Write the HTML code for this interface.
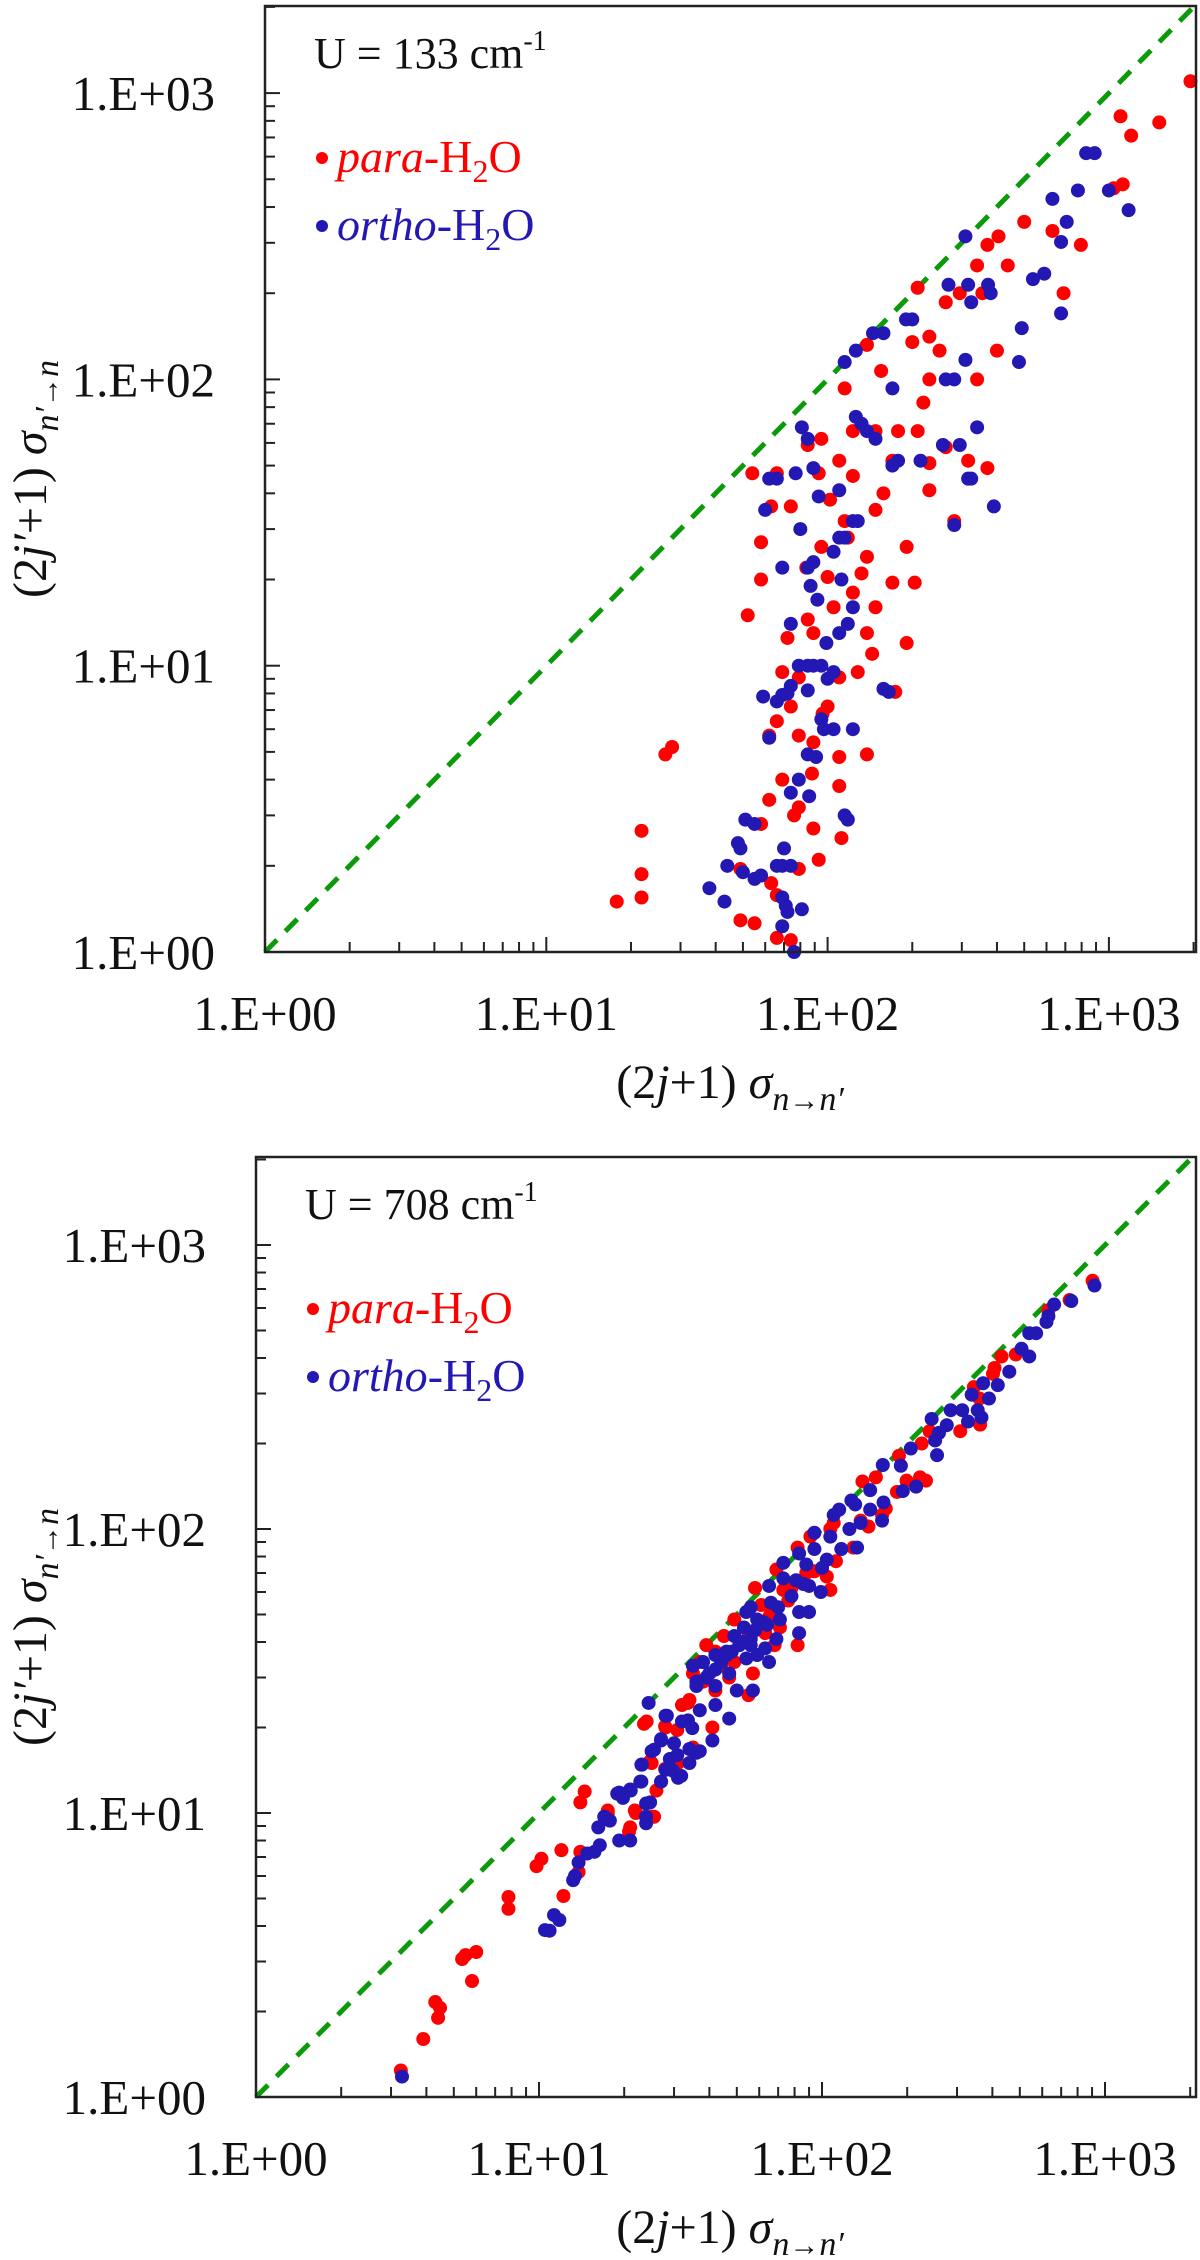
<!DOCTYPE html>
<html><head><meta charset="utf-8"><style>
html,body{margin:0;padding:0;background:#fff;}
svg{display:block;font-family:"Liberation Serif",serif;}
</style></head><body>
<svg id="fig" width="1200" height="2260" viewBox="0 0 1200 2260" xmlns="http://www.w3.org/2000/svg"></svg>
<script>
// ---- Top panel data (U = 133 cm-1) ----
const topParaX=[17.8,21.8,21.8,21.8,26.5,28,1950,1100,1200,1510,1040,1120,795,690,630,500,437,400,405,340,355,295,263,250,340,370,209,200,230,219,230,115,138,155,148,123,110,93,123,148,158,178,170,209,230,263,316,370,282,230,191,204,170,148,138,138,191,174,115,100,89,105,110,123,85,95,79,69,58,52,58,63,74,54,66,85,95,62,66,79,89,100,110,138,110,112,79,89,93,79,63,66,49,55,66,74,49,58,69,74,62,72,84,102,118,132,96,88,76,128,144];
const topParaY=[1.5,1.87,2.65,1.55,4.9,5.2,1100,830,710,790,465,480,295,200,330,355,250,126,316,250,200,200,186,126,100,295,209,135,100,83,141,93,132,107,66,66,52,47,46,35,40,66,52,66,51,58,52,49,32,41,26,19.5,19.5,16,13,24,12,8.1,32,20.4,13,16,9.1,18,14.5,26,9.1,9.5,20,15,27,36,36,47,47,59,62,5.7,6.4,5.7,5.4,7.2,4.8,4.9,3.8,2.5,3.2,2.7,2.1,1.95,1.74,1.58,1.29,1.26,1.12,1.1,1.95,2.8,4,7.2,3.4,12.5,22,38,28,21,6.8,4.2,3.0,9.5,11];
const topOrthoX=[830,890,1175,1000,630,776,676,708,676,589,537,490,479,309,372,316,269,324,309,282,263,380,200,190,158,145,126,115,170,126,132,138,148,178,170,214,257,295,340,316,324,282,390,81,85,89,77,62,66,60,110,93,123,128,110,115,89,85,87,69,123,118,110,74,79,85,89,95,100,105,158,165,74,72,69,66,62,59,85,95,97,105,123,85,91,79,74,115,118,51,55,48,49,44,50,66,69,74,38,43,55,58,69,71,72,81,69,76,92,105,80,99,112,86,70];
const topOrthoY=[617,617,390,457,427,457,302,355,170,234,224,151,115,316,214,214,214,186,117,100,100,200,162,162,145,145,126,115,93,74,70,66,62,52,50,52,59,59,68,45,45,31,36,68,62,49,47,45,45,35,41,39,32,32,28,28,23,22,19,22,16,14,13,14,10,10,10,10,9,9.5,8.3,8.1,8.5,8,7.9,7.5,5.6,7.8,8.2,6.5,6,6,6,4.9,4.8,4,3.6,3,2.9,2.9,2.8,2.4,2.3,2,1.9,2,2,2,1.67,1.5,1.8,1.85,1.55,1.45,1.38,1.41,1.23,1.0,17,25,30,12,20,3.5,2.3];
// ---- Bottom panel data (U = 708 cm-1) ----
const botParaX=[904,750,631,484,431,407,402,344,360,308,362,240,225,187,222,233,199,184,139,155,168,163,137,146,110,107,129,112,91,82,104,107,94,69,58,61,76,73,65,63,71,82,68,49,45,39,42,49,57,55,47,37,35,34,41,42,28,24,35,31,25,26,25,22,17.5,21,3.25,3.9,4.3,4.47,4.4,5.35,5.5,6.0,5.8,7.8,7.8,9.8,10.2,12,12.2,13.8,14,14,14.5,20.8,17.5,21.8,25.5,23.5,27.9,24.7,27.9,30.8,33.6,44,52,60,38,46,55,66,78,88,32,40];
const botParaY=[748,640,589,412,405,369,352,316,288,221,233,221,200,181,152,148,148,135,147,152,118,112,107,102,105,100,86,77,94,86,68,61,71,72,62,54,56,61,49,43,45,39,39,48,42,39,37,34,31,26,30,34,31,25,20,27,20,21,17,15,15,12,9.7,10,10,8.9,1.24,1.6,2.16,2.06,1.9,3.06,3.16,3.24,2.56,5.06,4.6,6.5,6.9,7.4,5.1,6.2,7.3,10.9,11.9,8.6,10.2,10.2,9.7,20.6,20.2,15.2,14.3,19.6,24.4,33,40,45,29,35,43,52,62,70,24,31];
const botOrthoX=[918,760,661,621,631,540,571,507,540,459,418,371,389,338,355,285,313,328,366,276,259,244,251,255,206,164,190,148,193,215,127,131,148,165,163,110,115,137,125,94,107,133,117,104,94,100,83,73,88,73,81,90,99,65,66,56,54,71,83,90,83,59,53,49,56,63,69,65,59,54,46,42,38,35,39,36,42,47,50,57,37,42,24.4,41,47,28,32,27,25,23,30,34,36,29,34,28,31,27,23,21,19.2,19.8,17.5,23.9,24.7,3.28,10.5,10.9,11.3,11.8,13.2,13.4,13.8,14.8,15.7,16.4,16.2,17,17.8,19.2,21,18.9,19.8,21.1,22.8,23.9,23.9,23.1,25.5,27,27,28.3,29.7,31.8,30.8,33.6,37,34.8,40,44,48,52,58,62,36,42,46,51,56,64,70,78,86];
const botOrthoY=[720,635,617,536,562,489,489,431,405,358,321,326,288,297,262,262,262,239,247,232,218,244,205,182,192,168,167,137,136,141,126,122,117,124,107,112,117,105,100,97,94,86,85,78,85,73,82,76,75,67,66,63,60,63,55,53,51,48,51,51,43,48,45,42,39,38,41,34,36,35,37,36,34,33,30,28,28,31,27,27,23,24,24.4,18,21.5,22,21,18,16.5,14.8,17.6,16.8,16.3,15.5,15,14.2,13.3,12.9,12.9,12.1,11.8,11.4,9.5,9.7,10.9,1.18,3.87,3.85,4.37,4.2,5.8,6.0,6.7,7.2,7.3,7.7,8.9,9.7,9.4,8.0,8.0,11.7,11.3,12,12.9,10.8,9.2,14.8,16.7,12.9,18.2,22,14.1,13.5,16,21.2,16.5,19.9,31,34,37,40,44,47,29,32,36,39,41,46,53,58,64];
const tickLabels=["1.E+00","1.E+01","1.E+02","1.E+03"];

const NS="http://www.w3.org/2000/svg";
const svg=document.getElementById('fig');
function mk(tag,attrs,parent){const e=document.createElementNS(NS,tag);for(const k in attrs)e.setAttribute(k,attrs[k]);(parent||svg).appendChild(e);return e;}

function panel(cfg){
  const g=mk('g',{});
  
  
  const xs=v=>cfg.left+Math.log10(v)*cfg.xd;
  const ys=v=>cfg.bottom-Math.log10(v)*cfg.yd;
  const xmax=(cfg.right-cfg.left)/cfg.xd, ymax=(cfg.bottom-cfg.top)/cfg.yd;
  const m=Math.min(xmax,ymax);
  const d=mk('line',{x1:xs(1),y1:ys(1),x2:xs(Math.pow(10,m)),y2:ys(Math.pow(10,m)),stroke:'#0a9a0a','stroke-width':5,'stroke-dasharray':'17 12'},g);
  
  
  const series=[[cfg.px,cfg.py,'#ff0000','para-point'],[cfg.ox,cfg.oy,'#2318b4','ortho-point']];
  series.forEach(s=>{
    for(let i=0;i<s[0].length;i++){
      const c=mk('circle',{cx:xs(s[0][i]),cy:ys(s[1][i]),r:7,fill:s[2]},g);
      
      
    }
  });
  const fr=mk('rect',{x:cfg.left,y:cfg.top,width:cfg.right-cfg.left,height:cfg.bottom-cfg.top,fill:'none',stroke:'#222','stroke-width':2.5},g);
  
  
  for(let dcd=0;dcd<4;dcd++){
    for(let k=1;k<10;k++){
      const v=k*Math.pow(10,dcd);const lv=Math.log10(v);
      const len=k===1?15:10;
      if(lv<=xmax+1e-6){const x=xs(v);mk('line',{x1:x,y1:cfg.bottom,x2:x,y2:cfg.bottom-len,stroke:'#222','stroke-width':2},g);}
      if(lv<=ymax+1e-6){const y=ys(v);mk('line',{x1:cfg.left,y1:y,x2:cfg.left+len,y2:y,stroke:'#222','stroke-width':2},g);}
    }
  }
  tickLabels.forEach((t,i)=>{
    const v=Math.pow(10,i);
    const tx=mk('text',{x:xs(v),y:cfg.bottom+78,'font-size':49,'text-anchor':'middle',fill:'#111'},g);
    tx.textContent=t;
    
    
    const ty=mk('text',{x:cfg.left-50,y:ys(v)+17,'font-size':49,'text-anchor':'end',fill:'#111'},g);
    ty.textContent=t;
    
    
  });
  const xt=mk('text',{x:730,y:cfg.bottom+146,'font-size':48,'text-anchor':'middle',fill:'#111'},g);
  xt.innerHTML='(2<tspan font-style="italic">j</tspan>+1) <tspan font-style="italic">σ</tspan><tspan font-style="italic" font-size="34" dy="12">n</tspan><tspan font-size="30">→</tspan><tspan font-style="italic" font-size="34">n′</tspan>';
  
  
  const cy=(cfg.top+cfg.bottom)/2;
  const yt=mk('text',{x:0,y:0,'font-size':48,'text-anchor':'middle',fill:'#111',transform:`translate(46,${cy}) rotate(-90)`},g);
  yt.innerHTML='(2<tspan font-style="italic">j′</tspan>+1) <tspan font-style="italic">σ</tspan><tspan font-style="italic" font-size="34" dy="12">n′</tspan><tspan font-size="30">→</tspan><tspan font-style="italic" font-size="34">n</tspan>';
  
  
  const u=mk('text',{x:cfg.left+49,y:cfg.top+62,'font-size':44,fill:'#111'},g);
  u.innerHTML=cfg.label+' cm<tspan font-size="28" dy="-18">-1</tspan>';
  
  
  const leg=[['#ff0000','para',cfg.top+166,'legend-para'],['#2318b4','ortho',cfg.top+234,'legend-ortho']];
  leg.forEach(l=>{
    const lg=mk('g',{},g);
    
    
    mk('circle',{cx:cfg.left+57,cy:l[2]-14,r:6,fill:l[0]},lg);
    const t=mk('text',{x:cfg.left+72,y:l[2],'font-size':46,fill:l[0]},lg);
    t.innerHTML='<tspan font-style="italic">'+l[1]+'</tspan>-H<tspan font-size="32" dy="10">2</tspan><tspan dy="-10">O</tspan>';
  });
}
panel({name:'top-panel',left:265,right:1196,top:6,bottom:952,xd:281.3,yd:286.3,px:topParaX,py:topParaY,ox:topOrthoX,oy:topOrthoY,label:'U = 133'});
panel({name:'bottom-panel',left:256,right:1196,top:1157,bottom:2097,xd:283,yd:284,px:botParaX,py:botParaY,ox:botOrthoX,oy:botOrthoY,label:'U = 708'});
</script>
</body></html>
